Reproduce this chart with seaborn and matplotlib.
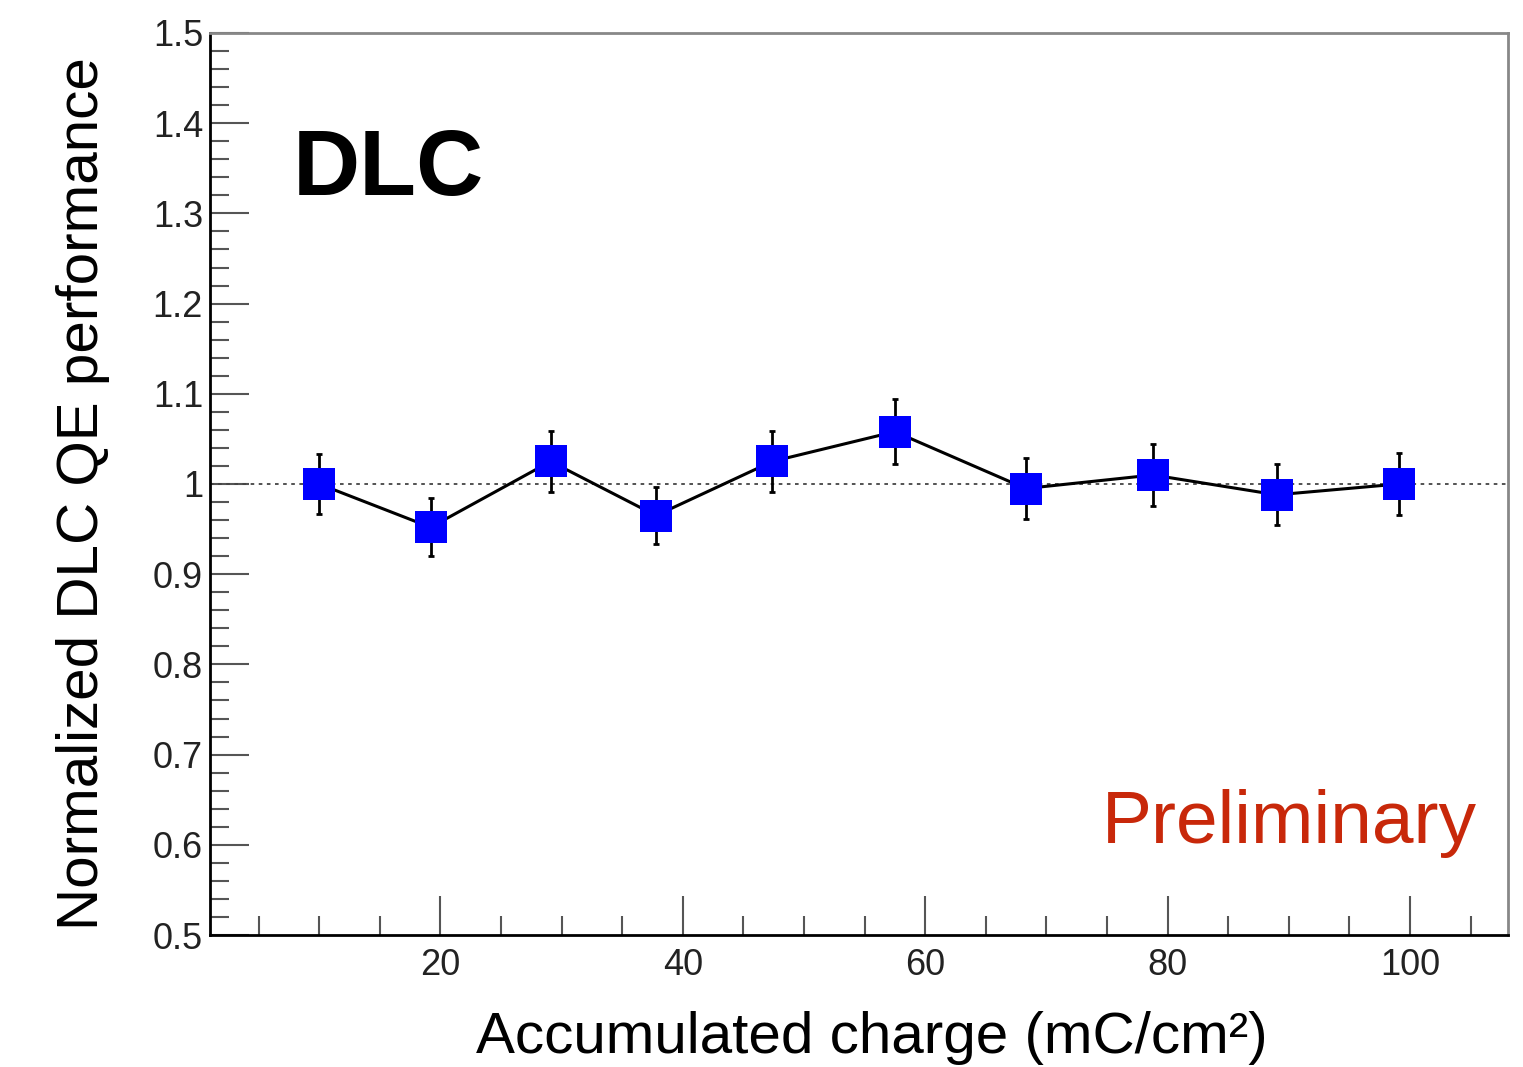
import numpy as np
import pandas as pd
import matplotlib
matplotlib.use("Agg")
import matplotlib.pyplot as plt
import seaborn as sns
from matplotlib.ticker import MultipleLocator

# --- data ---
charge = [10.0, 19.2, 29.1, 37.8, 47.4, 57.5, 68.3, 78.8, 89.0, 99.1]
qe_norm = [1.000, 0.952, 1.025, 0.965, 1.025, 1.058, 0.995, 1.010, 0.988, 1.000]
qe_err = [0.033, 0.032, 0.034, 0.032, 0.034, 0.036, 0.034, 0.034, 0.034, 0.034]

x_label = "Accumulated charge (mC/cm²)"
y_label = "Normalized DLC QE performance"

df = pd.DataFrame({"charge": charge, "qe": qe_norm, "err": qe_err})

sns.set_theme(style="ticks")
plt.rcParams["font.family"] = ["Liberation Sans", "DejaVu Sans"]

fig = plt.figure(figsize=(15.23, 10.67), dpi=100)
ax = fig.add_axes([0.1379, 0.1237, 0.8523, 0.8454])

# reference line at 1
ax.axhline(1.0, color="#444444", lw=1.3, ls=(0, (2, 2.5)), zorder=1)

# connecting line, error bars, markers
sns.lineplot(data=df, x="charge", y="qe", ax=ax, color="black", lw=2.2,
             sort=False, zorder=2)
ax.errorbar(df["charge"], df["qe"], yerr=df["err"], fmt="none",
            ecolor="black", elinewidth=2.0, capsize=2.5, capthick=2.0, zorder=3)
sns.scatterplot(data=df, x="charge", y="qe", ax=ax, marker="s", s=520,
                color="#0000ff", linewidth=0, zorder=4)

ax.set_xlim(1.0, 108.1)
ax.set_ylim(0.5, 1.5)
ax.xaxis.set_minor_locator(MultipleLocator(5))
ax.yaxis.set_minor_locator(MultipleLocator(0.02))
ax.set_yticks(np.arange(0.5, 1.51, 0.1))
ax.set_yticklabels(["0.5", "0.6", "0.7", "0.8", "0.9", "1", "1.1", "1.2", "1.3", "1.4", "1.5"])
ax.set_xticks([20, 40, 60, 80, 100])
ax.set_xticklabels(["20", "40", "60", "80", "100"])

ax.tick_params(axis="both", which="major", direction="in", length=28, width=1.5,
               color="#555555", labelsize=26, labelcolor="#222222")
ax.tick_params(axis="both", which="minor", direction="in", length=14, width=1.5,
               color="#555555")
ax.tick_params(axis="x", which="major", pad=9)
ax.tick_params(axis="y", which="major", pad=5)

for side in ["left", "bottom"]:
    ax.spines[side].set_color("black")
    ax.spines[side].set_linewidth(2.0)
for side in ["top", "right"]:
    ax.spines[side].set_visible(True)
    ax.spines[side].set_color("#888888")
    ax.spines[side].set_linewidth(2.0)

ax.set_xlabel("")
ax.set_ylabel("")
fig.text(0.5726, 0.013, x_label, ha="center", va="baseline", fontsize=42, color="black")
fig.text(0.0545, 0.5375, y_label, ha="center", va="center", rotation=90,
         fontsize=42, color="black")

ax.text(0.064, 0.820, "DLC", transform=ax.transAxes, fontsize=67, fontweight="bold",
        color="black", va="baseline")
ax.text(0.976, 0.102, "Preliminary", transform=ax.transAxes, fontsize=54,
        color="#c8280a", ha="right", va="baseline")

fig.savefig("out.png", dpi=100, facecolor="white")
